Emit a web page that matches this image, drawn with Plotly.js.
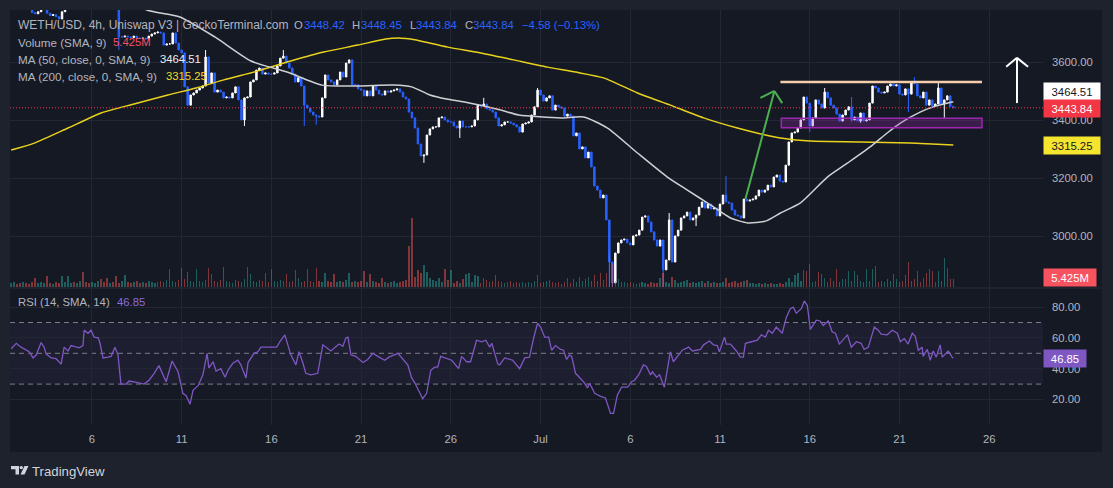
<!DOCTYPE html>
<html><head><meta charset="utf-8">
<script src="https://cdn.plot.ly/plotly-3.0.1.min.js"></script>
<style>html,body{margin:0;padding:0;background:#1e222d;}#chart{width:1113px;height:488px;}</style>
</head><body><div id="chart"></div>
<script>
// ---- data ----
const startTime = Date.UTC(2024, 5, 1, 12, 0, 0); // first visible 4h candle
const STEP = 4 * 3600 * 1000;
const firstOpen = 3800;
const closes = [
3805,3815,3808,3795,3805,3790,3785,3772,3768,3775,
3785,3790,3770,3762,3765,3758,3750,3775,3795,3810,
3820,3805,3815,3830,3825,3812,3800,3808,3820,3835,
3828,3815,3800,3810,3805,3790,3688,3688,3691,3688,
3686,3691,3684,3683,3684,3681,3691,3698,3702,3705,
3702,3660,3664,3664,3702,3667,3643,3633,3516,3453,
3488,3495,3505,3512,3519,3619,3529,3564,3498,3505,
3498,3478,3481,3478,3495,3516,3471,3402,3478,3481,
3533,3540,3574,3581,3560,3564,3560,3560,3564,3588,
3615,3622,3598,3581,3560,3533,3547,3519,3453,3443,
3429,3419,3415,3412,3478,3557,3540,3533,3523,3540,
3567,3550,3598,3609,3523,3523,3509,3505,3485,3502,
3485,3519,3505,3491,3488,3502,3498,3502,3505,3509,
3498,3481,3474,3429,3409,3374,3319,3278,3281,3350,
3371,3378,3378,3409,3412,3402,3395,3395,3381,3374,
3398,3378,3378,3378,3381,3402,3453,3450,3457,3440,
3436,3429,3409,3381,3385,3395,3395,3391,3385,3378,
3360,3388,3391,3395,3419,3447,3505,3488,3467,3478,
3485,3436,3453,3447,3443,3415,3422,3415,3347,3357,
3302,3309,3271,3291,3240,3174,3160,3133,3143,3057,
2912,2840,2943,2978,2988,2991,2978,2971,3002,3005,
3022,3067,3071,3050,3016,2988,2967,2988,2885,2919,
3057,2912,3002,3022,3064,3071,3084,3057,3064,3074,
3101,3119,3098,3112,3095,3098,3071,3112,3143,3119,
3115,3091,3074,3071,3064,3129,3122,3126,3129,3140,
3160,3153,3160,3177,3171,3205,3212,3191,3188,3246,
3326,3357,3360,3374,3402,3481,3460,3381,3409,3471,
3457,3443,3498,3478,3453,3443,3422,3398,3419,3436,
3447,3402,3412,3398,3426,3398,3402,3460,3519,3512,
3498,3495,3498,3519,3526,3519,3523,3491,3488,3509,
3491,3533,3526,3485,3478,3498,3453,3471,3450,3457,
3512,3457,3471,3485,3448.42,3443.84
];
// visible wicks (candle index, high, low)
const wickIdx  = [36,  65,  78,  91,  98,  102, 138, 150, 158, 176, 200, 201, 218, 220, 222, 229, 239, 267, 272, 281, 284, 300, 302, 310, 312, 315];
const wickHigh = [3800,3643,null,3643,null,null,null,null,3478,3512,null,null,null,3081,null,null,3209,null,3512,3481,null,null,3550,3530,null,3448.45];
const wickLow  = [3643,null,3381,null,3381,3385,3254,3340,null,null,2810,2810,2815,null,2957,3036,null,3360,null,3395,3392,3429,null,null,3409,3443.84];
// volume, millions
const volumes = [
2.7,3.4,2.0,2.7,3.4,2.7,2.0,3.4,6.1,2.7,3.4,2.7,7.5,2.7,2.0,3.4,2.7,7.5,3.4,7.5,
2.7,3.4,2.7,4.1,10.2,3.4,2.7,3.4,2.7,4.1,5.4,3.4,6.1,2.7,3.4,7.5,2.7,4.1,8.2,3.4,
2.7,3.4,4.1,2.7,3.4,2.7,4.1,3.4,2.7,3.4,4.1,3.4,4.8,12.2,4.1,3.4,4.8,12.9,5.4,10.2,
4.1,3.4,12.2,4.1,3.4,4.8,12.9,8.8,4.1,3.4,4.8,13.6,4.1,3.4,2.7,4.8,4.1,3.4,5.4,13.6,
8.8,4.1,3.4,4.8,4.1,9.5,3.4,12.2,4.1,3.4,4.8,4.1,8.8,3.4,4.1,11.6,6.1,3.4,4.1,12.2,
4.1,3.4,12.9,4.1,3.4,9.5,4.1,3.4,8.8,3.4,4.1,3.4,4.8,9.5,3.4,4.1,3.4,4.1,10.9,3.4,
8.8,4.1,3.4,2.7,6.1,3.4,2.7,3.4,4.1,2.7,3.4,4.1,4.8,27.9,46.9,6.8,11.6,9.5,15.0,10.2,
6.1,4.8,4.1,6.1,3.4,12.2,4.8,11.6,2.7,4.1,2.7,5.4,8.8,9.5,3.4,8.2,7.5,2.7,6.1,4.8,
3.4,4.1,8.2,4.1,3.4,2.7,3.4,4.1,2.7,3.4,2.7,3.4,2.7,3.4,2.7,4.1,8.2,2.7,3.4,4.1,
4.8,3.4,2.7,3.4,2.0,3.4,6.1,2.7,5.4,3.4,6.8,4.1,5.4,6.8,4.1,8.2,4.1,9.5,4.8,9.5,
22.4,15.6,4.1,5.4,3.4,3.4,2.7,3.4,2.7,2.0,2.7,3.4,2.7,2.0,3.4,2.7,2.7,6.1,9.5,3.4,
2.7,6.8,4.8,2.7,3.4,4.1,4.8,2.7,3.4,2.7,3.4,4.1,2.7,4.1,2.7,3.4,2.7,2.7,3.4,6.1,
2.7,3.4,4.1,2.7,3.4,4.1,4.8,2.7,2.7,2.0,2.7,2.0,2.7,2.0,2.7,2.0,2.0,2.7,2.0,3.4,
6.1,3.4,8.2,9.5,4.1,11.6,10.9,15.6,3.4,4.1,10.2,8.8,6.1,3.4,6.1,4.1,12.2,3.4,5.4,5.4,
10.9,4.1,10.9,8.2,4.1,3.4,12.2,4.1,12.2,14.3,3.4,4.1,3.4,5.4,4.1,8.8,5.4,3.4,4.1,8.2,
17.0,4.1,5.4,10.9,3.4,6.1,9.5,12.2,10.9,3.4,10.9,4.1,19.7,12.9,5.4,5.425
];
// moving averages (candle index, value)
const ma50Idx = [33.4,45.4,56.4,68.1,80.2,92.2,103.9,116.0,127.9,133.9,140.0,145.6,151.6,163.7,169.7,183.7,191.4,199.4,209.4,219.4,226.1,233.8,240.5,246.2,252.2,257.2,263.9,272.9,279.6,287.2,292.9,297.3,303.9,308.3,315];
const ma50Val = [3850,3781,3757,3688,3605,3567,3522,3519,3522,3516,3488,3474,3464,3436,3419,3409,3412,3374,3288,3205,3160,3109,3064,3047,3053,3081,3116,3205,3253,3309,3357,3391,3429,3447,3464.51];
const ma200Idx = [0,7.7,19.0,30.1,41.1,52.4,61.8,71.1,82.5,93.5,104.5,115.9,125.2,130.3,133.6,146.0,157.0,168.0,179.4,188.7,198.1,209.4,220.4,231.5,242.8,252.2,257.2,267.2,283.9,300.6,315];
const ma200Val = [3298,3322,3374,3426,3457,3488,3512,3540,3571,3605,3636,3660,3681,3684,3681,3653,3633,3609,3584,3567,3547,3495,3453,3409,3374,3350,3340,3329,3326,3322,3315.25];
// RSI (candle index, value)
const rsiIdx = [0,1.7,3.3,5.0,6.0,7.3,8.4,10.0,11.0,11.7,13.4,15.0,16.7,17.7,19.0,20.0,21.7,22.7,24.0,24.4,25.7,26.7,27.7,29.1,29.7,30.7,32.4,33.4,34.7,35.7,36.7,38.4,39.4,41.1,44.4,46.1,47.8,49.4,51.8,53.8,55.8,57.4,58.5,59.8,60.8,62.5,64.1,65.5,66.1,67.5,68.5,70.1,71.5,72.5,74.1,75.8,76.8,78.5,79.2,81.2,82.5,83.5,85.8,88.8,89.8,91.5,93.5,95.2,96.2,97.5,98.5,100.2,102.5,104.2,106.9,109.6,110.9,111.9,112.6,113.6,115.2,117.6,119.2,120.9,122.6,
123.6,124.9,126.3,129.3,132.6,133.9,134.9,137.6,138.9,140.3,141.6,142.6,143.6,145.3,147.3,149.6,150.6,152.3,153.6,155.6,157.3,158.7,160.0,160.7,162.7,163.3,165.0,167.7,170.0,171.7,173.3,174.7,176.0,177.0,178.4,179.7,180.7,182.0,183.7,184.7,185.7,186.7,187.4,188.7,190.0,191.4,192.7,193.4,195.1,197.1,198.7,200.4,201.4,202.7,204.1,206.1,207.4,208.4,209.8,211.4,212.4,213.8,214.4,215.8,216.8,218.4,220.4,221.4,224.4,226.5,227.8,230.5,231.5,233.5,234.8,236.1,236.8,238.5,239.1,240.5,242.5,243.8,244.8,245.5,247.5,249.5,250.8,252.2,253.2,254.5,255.8,257.8,259.2,260.5,261.5,262.5,264.2,265.2,266.2,267.2,269.2,270.5,271.5,273.2,274.5,275.6,276.9,279.6,280.9,282.6,284.2,285.2,286.6,288.6,289.9,290.9,292.9,294.6,296.3,297.3,298.6,299.9,301.3,302.3,303.3,304.6,304.9,306.3,307.3,308.3,309.3,310.6,311.3,312.6,313.3,314.6,315];
const rsiVal = [53,56.5,54,52,51,47,49,57,54,49.5,47,46.5,43,54,51.5,55,54,53.5,55,65,63,65,60.5,60,56.5,47,47.5,48,54,49,30,30,32,31.5,30,32.5,37,42,31.5,45,38,24,22.5,17,26,29,36,50,40.5,44.5,38.5,40,34.5,39,43.5,45.5,42.5,34,44,50,51,54,54,54,57.5,62,49,42.5,51,44,37,36,37,55.5,51.5,56,54.5,60,60.5,49,48,44,46,50,48,
47,45.5,47.5,50,42.5,34,31,20.5,24,39,41,41,48,47,45.5,40,48,44.5,44.5,58.5,57.5,58.5,54,56.5,43,42.5,47,45.5,40,47,47.5,60,69.5,67,60.5,60.5,52,55,52.5,52,46,49,48,37,34.5,31.5,27.5,30.5,24,22,21,11,11,23,28,28,31.5,32.5,36,42.5,41.5,36,38,34.5,36,28,51,44.5,52,54,51.5,52.5,55.5,58,55.5,55,51,60.5,56,56,51.5,47.5,47.5,56.5,57.5,58.5,62,60.5,65,63,67,63,73.5,79,80,76,79,84,81,65.5,71.5,71,68,71,64,63,56,62,54,57.5,56.5,52.5,54,67,65,62.5,62,65,63,57.5,59.5,56,63,61,52,54,48,52.5,45.5,51.5,47.5,55.5,47.5,50,51.5,47.5,46.85];
const tickDates = ['2024-06-06','2024-06-11','2024-06-16','2024-06-21','2024-06-26','2024-07-01','2024-07-06','2024-07-11','2024-07-16','2024-07-21','2024-07-26'];
const tickLabels = ['6','11','16','21','26','Jul','6','11','16','21','26'];
const priceTicks = [3000, 3200, 3400, 3600];
const rsiTicks = [20, 40, 60, 80];

// ---- build ----
const W = 1113, H = 488;
const PX = x => x / W, PY = y => 1 - y / H;
const dateAt = i => new Date(startTime + i * STEP).toISOString().slice(0, 23).replace('T', ' ');
const N = closes.length;
const xs = [], o = [], h = [], l = [], c = [];
for (let i = 0; i < N; i++) {
  const op = i === 0 ? firstOpen : closes[i - 1];
  xs.push(dateAt(i)); o.push(op); c.push(closes[i]);
  h.push(Math.max(op, closes[i])); l.push(Math.min(op, closes[i]));
}
wickIdx.forEach((i, k) => {
  if (wickHigh[k] != null) h[i] = Math.max(h[i], wickHigh[k]);
  if (wickLow[k] != null) l[i] = Math.min(l[i], wickLow[k]);
});
const volColors = c.map((v, i) => v >= o[i] ? 'rgba(38,166,154,0.5)' : 'rgba(239,83,80,0.5)');

const BG = '#151924', GRID = '#232733', TXT = '#b2b5be', FONT = 'Liberation Sans, Arial, sans-serif';

const traces = [
  {type: 'bar', x: xs, y: volumes, yaxis: 'y2', xaxis: 'x', marker: {color: volColors, line: {width: 0}}, width: STEP * 0.5, hoverinfo: 'skip'},
  {type: 'scatter', mode: 'lines', x: ma200Idx.map(dateAt), y: ma200Val, line: {color: '#e8d21d', width: 1.5, shape: 'spline', smoothing: 0.6}, hoverinfo: 'skip'},
  {type: 'scatter', mode: 'lines', x: ma50Idx.map(dateAt), y: ma50Val, line: {color: '#cfd0d4', width: 1.5, shape: 'spline', smoothing: 0.6}, hoverinfo: 'skip'},
  {type: 'candlestick', x: xs, open: o, high: h, low: l, close: c, xaxis: 'x', yaxis: 'y',
   increasing: {line: {color: '#ffffff', width: 1}, fillcolor: '#ffffff'},
   decreasing: {line: {color: '#2962ff', width: 1}, fillcolor: '#2962ff'},
   whiskerwidth: 0, hoverinfo: 'skip'},
  {type: 'scatter', mode: 'lines', x: rsiIdx.map(dateAt), y: rsiVal, yaxis: 'y3', line: {color: '#7e57c2', width: 1.3}, hoverinfo: 'skip'}
];

const shapes = [];
shapes.push({type: 'rect', xref: 'paper', yref: 'paper', x0: PX(10), x1: PX(1102), y0: PY(452), y1: PY(10), fillcolor: BG, line: {width: 0}, layer: 'below'});
shapes.push({type: 'rect', xref: 'paper', yref: 'y3', x0: PX(10), x1: PX(1043), y0: 30, y1: 70, fillcolor: 'rgba(126,87,194,0.09)', line: {width: 0}, layer: 'below'});
[70, 50, 30].forEach(v => shapes.push({type: 'line', xref: 'paper', yref: 'y3', x0: PX(10), x1: PX(1043), y0: v, y1: v, line: {color: 'rgba(140,143,155,0.85)', width: 1, dash: '5px,4px'}, layer: 'below'}));
shapes.push({type: 'line', xref: 'paper', yref: 'paper', x0: PX(10), x1: PX(1102), y0: PY(288), y1: PY(288), line: {color: '#2a2e39', width: 1}});
shapes.push({type: 'line', xref: 'paper', yref: 'y', x0: PX(10), x1: PX(1043), y0: 3443.84, y1: 3443.84, line: {color: '#f23645', width: 1, dash: '1px,2px'}});
// drawings
shapes.push({type: 'line', xref: 'x', yref: 'y', x0: dateAt(257.2), x1: dateAt(324.6), y0: 3533, y1: 3533, line: {color: '#f5cdab', width: 2.5}});
shapes.push({type: 'rect', xref: 'x', yref: 'y', x0: dateAt(257.5), x1: dateAt(324.6), y0: 3375, y1: 3408, fillcolor: 'rgba(156,39,176,0.28)', line: {color: '#9c27b0', width: 1.5}});
const seg = (i0, p0, i1, p1, col) => shapes.push({type: 'line', xref: 'x', yref: 'y', x0: dateAt(i0), x1: dateAt(i1), y0: p0, y1: p1, line: {color: col, width: 2}});
seg(245.5, 3129, 255.2, 3502, '#4caf50');
seg(250.5, 3478, 255.2, 3502, '#4caf50');
seg(257.8, 3460, 255.2, 3502, '#4caf50');
seg(336.3, 3460, 336.3, 3616, '#ffffff');
seg(332.7, 3585, 336.3, 3616, '#ffffff');
seg(340.0, 3585, 336.3, 3616, '#ffffff');
// TradingView logo mark
const pth = pts => 'M ' + pts.map(p => PX(p[0]) + ',' + PY(p[1])).join(' L ') + ' Z';
shapes.push({type: 'path', xref: 'paper', yref: 'paper', path: pth([[11,466],[19,466],[19,474.5],[15.5,474.5],[15.5,469.2],[11,469.2]]), fillcolor: '#d1d4dc', line: {width: 0}});
shapes.push({type: 'circle', xref: 'paper', yref: 'paper', x0: PX(19.6), x1: PX(23), y0: PY(469.3), y1: PY(465.9), fillcolor: '#d1d4dc', line: {width: 0}});
shapes.push({type: 'path', xref: 'paper', yref: 'paper', path: pth([[24.5,466],[28.5,466],[24.5,474.5],[20.5,474.5]]), fillcolor: '#d1d4dc', line: {width: 0}});

const ann = [];
const T = (x, y, text, color, size) => ann.push({xref: 'paper', yref: 'paper', x: PX(x), y: PY(y), text: text, showarrow: false, xanchor: 'left', yanchor: 'middle', font: {family: FONT, size: size || 11.3, color: color}, borderpad: 0});
const BLUE = '#2962ff';
T(17, 25, 'WETH/USD, 4h, Uniswap V3 | GeckoTerminal.com', TXT, 12);
T(293, 25, 'O', TXT); T(302.5, 25, '3448.42', BLUE);
T(351, 25, 'H', TXT); T(359.5, 25, '3448.45', BLUE);
T(408.5, 25, 'L', TXT); T(415, 25, '3443.84', BLUE);
T(463.5, 25, 'C', TXT); T(471.5, 25, '3443.84', BLUE);
T(520.5, 25, '\u22124.58 (\u22120.13%)', BLUE);
T(17, 42, 'Volume (SMA, 9)', TXT, 11.7); T(112, 42, '5.425M', '#f7525f');
T(17, 59, 'MA (50, close, 0, SMA, 9)', TXT, 11.7); T(158.5, 59, '3464.51', '#eeeeee');
T(17, 76, 'MA (200, close, 0, SMA, 9)', TXT, 11.7); T(164.5, 76, '3315.25', '#f2dc2a');
T(17, 302, 'RSI (14, SMA, 14)', TXT, 11.3); T(115.5, 302, '46.85', '#8b6bd6');
T(31, 471, 'TradingView', '#d1d4dc', 13.2);
const B = (y, text, bg, fg, w) => ann.push({xref: 'paper', yref: 'paper', x: PX(1043), y: PY(y), text: text, showarrow: false, xanchor: 'left', yanchor: 'middle', bgcolor: bg, borderpad: 2, width: w || 52, height: 13, align: 'center', font: {family: FONT, size: 11.3, color: fg}});
B(91.3, '3464.51', '#ffffff', '#131722');
B(108.3, '3443.84', '#f23645', '#ffffff');
B(145.3, '3315.25', '#f5e52e', '#131722');
B(277.8, '5.425M', '#f7525f', '#ffffff', 48);
B(358.2, '46.85', '#7e57c2', '#ffffff', 38);

const layout = {
  width: W, height: H, margin: {l: 0, r: 0, t: 0, b: 0},
  paper_bgcolor: '#1e222d', plot_bgcolor: 'rgba(0,0,0,0)',
  showlegend: false, hovermode: false, dragmode: false, bargap: 0,
  font: {family: FONT, color: TXT, size: 11.3},
  xaxis: {domain: [PX(10), PX(1043)], type: 'date', range: [dateAt(-0.4), dateAt(345)], anchor: 'y3',
    rangeslider: {visible: false}, tickvals: tickDates, ticktext: tickLabels, showgrid: true, gridcolor: GRID, gridwidth: 1,
    zeroline: false, showline: false, ticks: '', tickfont: {family: FONT, size: 11.3, color: TXT}, ticklabelstandoff: 6},
  yaxis: {domain: [PY(287), PY(10)], range: [2825.9, 3781], side: 'right', anchor: 'x',
    tickvals: priceTicks, ticktext: priceTicks.map(v => v.toFixed(2)), showgrid: true, gridcolor: GRID,
    zeroline: false, showline: false, ticks: '', ticklabelstandoff: 8},
  yaxis2: {overlaying: 'y', range: [0, 188], visible: false, side: 'right', showgrid: false},
  yaxis3: {domain: [PY(425), PY(289)], range: [3.44, 91.75], side: 'right', anchor: 'x',
    tickvals: rsiTicks, ticktext: rsiTicks.map(v => v.toFixed(2)), showgrid: true, gridcolor: GRID,
    zeroline: false, showline: false, ticks: '', ticklabelstandoff: 8},
  shapes: shapes, annotations: ann
};
Plotly.newPlot('chart', traces, layout, {staticPlot: true, displayModeBar: false});
</script></body></html>
